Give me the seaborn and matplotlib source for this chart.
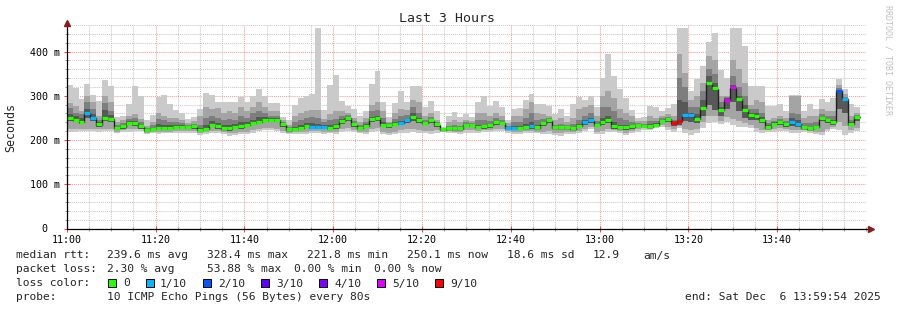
import numpy as np
import pandas as pd
import matplotlib
matplotlib.use("Agg")
import matplotlib.pyplot as plt
from matplotlib.ticker import MultipleLocator, FixedLocator
from matplotlib.patches import Rectangle
import seaborn as sns

# ---------------- data (ms, one value per 80 s step, starting 11:00) ----------------
step_seconds = 80
median_ms = [248, 245, 241, 260, 249, 235, 249, 247, 227, 230,
             238, 238, 230, 222, 224, 227, 227, 227, 229, 229,
             229, 230, 222, 224, 234, 230, 226, 226, 229, 230,
             234, 238, 241, 245, 245, 245, 235, 223, 225, 227,
             232, 229, 229, 229, 227, 230, 242, 249, 235, 227,
             232, 247, 249, 234, 233, 236, 238, 244, 251, 244,
             238, 244, 235, 223, 226, 226, 226, 234, 234, 229,
             230, 233, 239, 238, 227, 227, 227, 228, 231, 228,
             237, 244, 228, 228, 228, 226, 231, 240, 244, 234,
             241, 244, 230, 228, 228, 230, 233, 232, 230, 234,
             243, 247, 238, 243, 255, 255, 247, 272, 329, 316,
             268, 290, 318, 293, 268, 255, 253, 245, 228, 236,
             240, 235, 239, 236, 228, 226, 229, 248, 244, 240,
             310, 292, 236, 251]

lost_pings = [0, 0, 0, 1, 1, 0, 0, 0, 0, 0,
              0, 0, 0, 0, 0, 0, 0, 0, 0, 0,
              0, 0, 0, 0, 0, 0, 0, 0, 0, 0,
              0, 0, 0, 0, 0, 0, 0, 0, 0, 0,
              0, 1, 1, 1, 0, 0, 0, 0, 0, 0,
              0, 0, 0, 0, 0, 0, 1, 1, 0, 0,
              0, 0, 0, 0, 0, 0, 0, 0, 0, 0,
              0, 0, 0, 0, 1, 1, 0, 0, 1, 0,
              0, 0, 0, 0, 0, 0, 0, 1, 1, 0,
              0, 0, 0, 0, 0, 0, 0, 0, 0, 0,
              0, 0, 9, 9, 1, 1, 0, 0, 0, 0,
              0, 5, 5, 0, 0, 0, 0, 0, 0, 0,
              0, 0, 1, 1, 0, 0, 0, 0, 0, 0,
              2, 1, 0, 0]

smoke_max = [325, 317, 292, 327, 302, 289, 336, 323, 253, 254,
             281, 323, 300, 245, 257, 298, 302, 281, 268, 262,
             247, 253, 270, 306, 301, 285, 285, 285, 286, 298,
             286, 300, 316, 300, 283, 283, 253, 245, 280, 295,
             300, 305, 454, 267, 325, 348, 289, 277, 270, 255,
             265, 327, 355, 287, 253, 283, 310, 287, 321, 321,
             274, 289, 266, 229, 254, 263, 253, 259, 253, 285,
             300, 276, 289, 274, 245, 270, 272, 290, 304, 281,
             281, 277, 259, 270, 255, 281, 297, 291, 300, 274,
             340, 395, 345, 315, 294, 268, 249, 252, 277, 274,
             265, 272, 282, 454, 454, 310, 337, 367, 421, 441,
             359, 340, 454, 454, 412, 323, 323, 323, 276, 277,
             281, 266, 302, 301, 266, 281, 270, 293, 285, 296,
             339, 316, 281, 274]

smoke_hi2 = [283, 276, 266, 300, 285, 255, 300, 285, 240, 245,
             255, 258, 248, 232, 240, 262, 255, 250, 250, 245,
             238, 242, 255, 275, 270, 272, 260, 265, 262, 275,
             265, 275, 285, 275, 265, 265, 245, 235, 255, 262,
             265, 268, 268, 248, 258, 265, 265, 262, 250, 240,
             250, 280, 287, 265, 240, 262, 270, 268, 290, 285,
             255, 262, 245, 227, 240, 245, 240, 245, 242, 260,
             262, 255, 262, 255, 238, 255, 255, 270, 285, 260,
             258, 255, 245, 250, 240, 250, 270, 275, 280, 255,
             300, 310, 295, 270, 262, 255, 242, 242, 255, 250,
             255, 258, 255, 395, 352, 290, 300, 329, 390, 380,
             299, 300, 380, 360, 330, 280, 290, 285, 245, 250,
             255, 250, 300, 300, 250, 255, 255, 270, 265, 265,
             325, 305, 255, 262]

smoke_hi3 = [272, 262, 258, 285, 270, 245, 283, 265, 234, 238,
             248, 250, 240, 228, 233, 248, 245, 240, 240, 238,
             234, 236, 235, 250, 255, 250, 245, 248, 245, 255,
             250, 260, 265, 262, 255, 255, 240, 230, 240, 245,
             250, 252, 250, 240, 245, 248, 255, 256, 242, 234,
             240, 265, 268, 250, 238, 248, 255, 256, 275, 262,
             245, 252, 240, 225, 232, 235, 232, 240, 238, 245,
             245, 243, 250, 245, 232, 240, 240, 250, 262, 245,
             248, 250, 235, 237, 233, 237, 245, 255, 262, 243,
             275, 275, 265, 250, 245, 240, 238, 237, 242, 242,
             250, 252, 245, 340, 320, 275, 275, 310, 360, 350,
             285, 298, 345, 320, 300, 270, 270, 262, 238, 243,
             248, 242, 260, 258, 238, 238, 240, 258, 255, 255,
             318, 298, 245, 257]

smoke_hi4 = [258, 255, 250, 270, 258, 240, 268, 256, 230, 233,
             243, 244, 235, 225, 228, 236, 235, 233, 234, 233,
             232, 233, 228, 235, 242, 238, 233, 235, 236, 240,
             240, 245, 252, 252, 250, 250, 238, 227, 230, 234,
             238, 238, 236, 234, 235, 237, 248, 252, 238, 230,
             236, 252, 255, 240, 236, 240, 243, 248, 260, 250,
             241, 247, 237, 224, 229, 229, 229, 237, 236, 234,
             235, 237, 243, 241, 230, 232, 231, 236, 240, 234,
             241, 247, 231, 231, 230, 230, 236, 246, 250, 237,
             250, 255, 240, 235, 234, 234, 236, 235, 236, 238,
             246, 250, 242, 290, 285, 262, 258, 290, 345, 330,
             275, 294, 325, 300, 280, 262, 260, 252, 233, 240,
             244, 238, 250, 245, 232, 230, 232, 252, 248, 246,
             314, 295, 240, 254]

smoke_min = [219, 219, 220, 220, 220, 219, 220, 220, 215, 218,
             219, 220, 220, 213, 215, 213, 215, 215, 215, 215,
             215, 215, 212, 214, 215, 215, 214, 209, 212, 214,
             213, 215, 220, 222, 222, 220, 215, 213, 213, 213,
             213, 215, 215, 213, 215, 213, 218, 220, 218, 215,
             213, 218, 220, 213, 211, 213, 215, 215, 219, 217,
             215, 213, 217, 218, 217, 215, 213, 217, 217, 215,
             219, 218, 220, 220, 215, 213, 213, 215, 215, 215,
             213, 213, 211, 209, 213, 213, 216, 220, 224, 213,
             213, 218, 218, 216, 211, 216, 218, 223, 223, 227,
             229, 223, 219, 227, 215, 211, 217, 227, 238, 240,
             236, 240, 235, 230, 229, 227, 219, 215, 219, 219,
             221, 221, 215, 215, 219, 217, 213, 211, 220, 226,
             222, 212, 215, 220]

smoke_lo2 = [224, 224, 225, 226, 226, 224, 226, 225, 219, 222,
             224, 225, 224, 217, 219, 218, 219, 219, 220, 220,
             220, 220, 216, 218, 221, 220, 219, 215, 217, 219,
             219, 222, 226, 228, 228, 226, 221, 217, 218, 218,
             219, 220, 220, 219, 219, 219, 224, 228, 223, 219,
             218, 225, 228, 219, 216, 219, 222, 224, 226, 223,
             220, 220, 222, 220, 220, 219, 218, 222, 222, 220,
             223, 223, 226, 226, 220, 218, 218, 220, 220, 219,
             219, 221, 216, 215, 218, 218, 221, 226, 230, 219,
             221, 225, 222, 220, 216, 220, 224, 227, 226, 230,
             234, 230, 224, 232, 226, 222, 226, 240, 255, 255,
             244, 252, 248, 242, 238, 235, 228, 222, 223, 225,
             227, 226, 222, 222, 222, 220, 219, 218, 226, 230,
             240, 232, 222, 228]

smoke_lo4 = [242, 240, 236, 250, 243, 230, 242, 241, 223, 226,
             233, 232, 226, 219, 221, 223, 223, 223, 225, 225,
             225, 226, 219, 221, 229, 226, 222, 221, 224, 226,
             229, 233, 236, 240, 240, 240, 230, 220, 221, 222,
             227, 225, 225, 225, 223, 225, 236, 243, 230, 223,
             227, 240, 243, 229, 228, 231, 233, 238, 244, 238,
             233, 238, 230, 221, 222, 222, 222, 229, 229, 225,
             226, 228, 234, 233, 223, 223, 223, 224, 226, 224,
             232, 238, 224, 224, 224, 222, 227, 235, 238, 229,
             235, 238, 226, 224, 223, 226, 229, 229, 227, 230,
             238, 240, 232, 235, 242, 240, 238, 255, 280, 268,
             255, 270, 285, 265, 250, 245, 245, 238, 224, 231,
             235, 230, 232, 230, 224, 222, 225, 242, 238, 235,
             270, 260, 231, 244]

x_tick_labels = ["11:00", "11:20", "11:40", "12:00", "12:20", "12:40", "13:00", "13:20", "13:40"]
y_tick_values = [0, 100, 200, 300, 400]
y_tick_labels = ["0  ", "100 m", "200 m", "300 m", "400 m"]

loss_legend_labels = ["0", "1/10", "2/10", "3/10", "4/10", "5/10", "9/10"]
loss_legend_counts = [0, 1, 2, 3, 4, 5, 9]
loss_colors = {0: "#26ff00", 1: "#00b8ff", 2: "#0059ff", 3: "#5e00ff",
               4: "#7e00ff", 5: "#dd00ff", 9: "#ff0000"}

# ---------------- figure ----------------
sns.set_theme(style="white")
plt.rcParams["font.family"] = ["DejaVu Sans Mono", "DejaVu Sans"]

W, H = 897, 310
fig = plt.figure(figsize=(W / 100, H / 100), dpi=100, facecolor="white")
px_left, px_right, px_top, px_bottom = 66.7, 866.0, 25.0, 228.5
ax = fig.add_axes([px_left / W, 1 - px_bottom / H,
                   (px_right - px_left) / W, (px_bottom - px_top) / H])
ax.set_facecolor("white")

n = len(median_ms)
edges = np.arange(n + 1) * step_seconds / 60.0  # minutes since 11:00

def ext(a):
    a = np.asarray(a, dtype=float)
    return np.append(a, a[-1])

med = np.asarray(median_ms, dtype=float)
hi1 = np.maximum(np.asarray(smoke_max, float), med)
hi2 = np.minimum(np.maximum(np.asarray(smoke_hi2, float), med), hi1)
hi3 = np.minimum(np.maximum(np.asarray(smoke_hi3, float), med), hi2)
hi4 = np.minimum(np.maximum(np.asarray(smoke_hi4, float), med), hi3)
lo1 = np.minimum(np.asarray(smoke_min, float), med)
lo2 = np.minimum(np.maximum(np.asarray(smoke_lo2, float), lo1), med)
lo4 = np.minimum(np.maximum(np.asarray(smoke_lo4, float), lo2), med)

layers = [(lo1, hi1, "#cacaca"), (lo2, hi2, "#a4a4a4"),
          (lo4, hi3, "#7e7e7e"), (lo4, hi4, "#585858")]
for lo, hi, col in layers:
    ax.fill_between(edges, ext(lo), ext(hi), step="post", color=col,
                    linewidth=0, zorder=2)

# median step line (seaborn)
df_med = pd.DataFrame({"t": edges, "median": ext(med)})
sns.lineplot(data=df_med, x="t", y="median", drawstyle="steps-post",
             color="#202020", linewidth=1.0, ax=ax, zorder=3, legend=False)

# loss-coloured median segments
seg_cols = [loss_colors[k] for k in lost_pings]
ax.hlines(med + 0.8, edges[:-1], edges[1:], colors=seg_cols, linewidth=2.3,
          zorder=4, capstyle="butt")

ax.set_xlim(0, 180)
ax.set_ylim(0, 460)

ax.xaxis.set_major_locator(MultipleLocator(20))
ax.xaxis.set_minor_locator(MultipleLocator(5))
ax.set_xticks(np.arange(len(x_tick_labels)) * 20)
ax.set_xticklabels(x_tick_labels)
ax.yaxis.set_major_locator(FixedLocator(y_tick_values))
ax.set_yticklabels(y_tick_labels)
ax.yaxis.set_minor_locator(MultipleLocator(20))

ax.set_axisbelow(True)
ax.grid(which="minor", color="#c8c8c8", linestyle=(0, (1, 1)), linewidth=0.75)
ax.grid(which="major", color="#f49a9a", linestyle=(0, (1, 1)), linewidth=0.75)

ax.tick_params(axis="both", which="major", labelsize=7.2, length=4, width=0.75,
               color="#ff4040", direction="inout", pad=2.5, labelcolor="black",
               bottom=True, left=True)
ax.tick_params(axis="both", which="minor", length=3, width=0.75, color="#a0a0a0",
               direction="inout", bottom=True, left=True)
ax.tick_params(axis="x", which="major", pad=3)
ax.tick_params(axis="y", which="major", pad=3)

for s in ["top", "right", "left", "bottom"]:
    ax.spines[s].set_visible(False)
ax.set_xlabel("")
ax.set_ylabel("")

# axes with arrows (rrdtool style)
ax.plot([0, 1.006], [0, 0], transform=ax.transAxes, color="black", lw=0.9,
        clip_on=False, zorder=6)
ax.plot([0, 0], [0, 1.01], transform=ax.transAxes, color="black", lw=0.9,
        clip_on=False, zorder=6)
ax.plot([1.006], [0], transform=ax.transAxes, marker=">", color="#8b1a1a",
        markersize=4, clip_on=False, zorder=7)
ax.plot([0], [1.01], transform=ax.transAxes, marker="^", color="#8b1a1a",
        markersize=4, clip_on=False, zorder=7)

def ftx(x, y, s, **kw):
    fig.text(x / W, 1 - y / H, s, **kw)

ftx(447, 19, "Last 3 Hours", fontsize=9.5, ha="center", va="center")
ftx(11, 127, "Seconds", fontsize=8.4, rotation=90, ha="center", va="center")
ftx(888, 60, "RRDTOOL / TOBI OETIKER", fontsize=6, rotation=270,
    ha="center", va="center", color="#c0c0c0")

fs = 8.1
base = [258.5, 272.5, 286.5, 300.5]
line1 = [("median rtt:", 16), ("239.6 ms avg", 107), ("328.4 ms max", 207),
         ("221.8 ms min", 307), ("250.1 ms now", 407), ("18.6 ms sd", 507),
         ("12.9", 593), ("am/s", 643)]
line2 = [("packet loss:", 16), ("2.30 % avg", 107), ("53.88 % max", 207),
         ("0.00 % min", 294), ("0.00 % now", 374)]
for s, x in line1:
    ftx(x, base[0], s, fontsize=fs, va="baseline", ha="left")
for s, x in line2:
    ftx(x, base[1], s, fontsize=fs, va="baseline", ha="left")

ftx(16, base[2], "loss color:", fontsize=fs, va="baseline", ha="left")
box_x = [108, 146, 203, 261, 319, 377, 435]
lab_x = [123, 160, 218, 276, 334, 392, 450]
for bx, lx, lab, cnt in zip(box_x, lab_x, loss_legend_labels, loss_legend_counts):
    fig.patches.append(Rectangle((bx / W, 1 - 287 / H), 8 / W, 8 / H,
                                 transform=fig.transFigure, facecolor=loss_colors[cnt],
                                 edgecolor="black", linewidth=0.7))
    ftx(lx, base[2], lab, fontsize=fs, va="baseline", ha="left")

ftx(16, base[3], "probe:", fontsize=fs, va="baseline", ha="left")
ftx(107, base[3], "10 ICMP Echo Pings (56 Bytes) every 80s", fontsize=fs,
    va="baseline", ha="left")
ftx(881, base[3], "end: Sat Dec  6 13:59:54 2025", fontsize=fs,
    va="baseline", ha="right")

fig.savefig("out.png", dpi=100, facecolor="white")
